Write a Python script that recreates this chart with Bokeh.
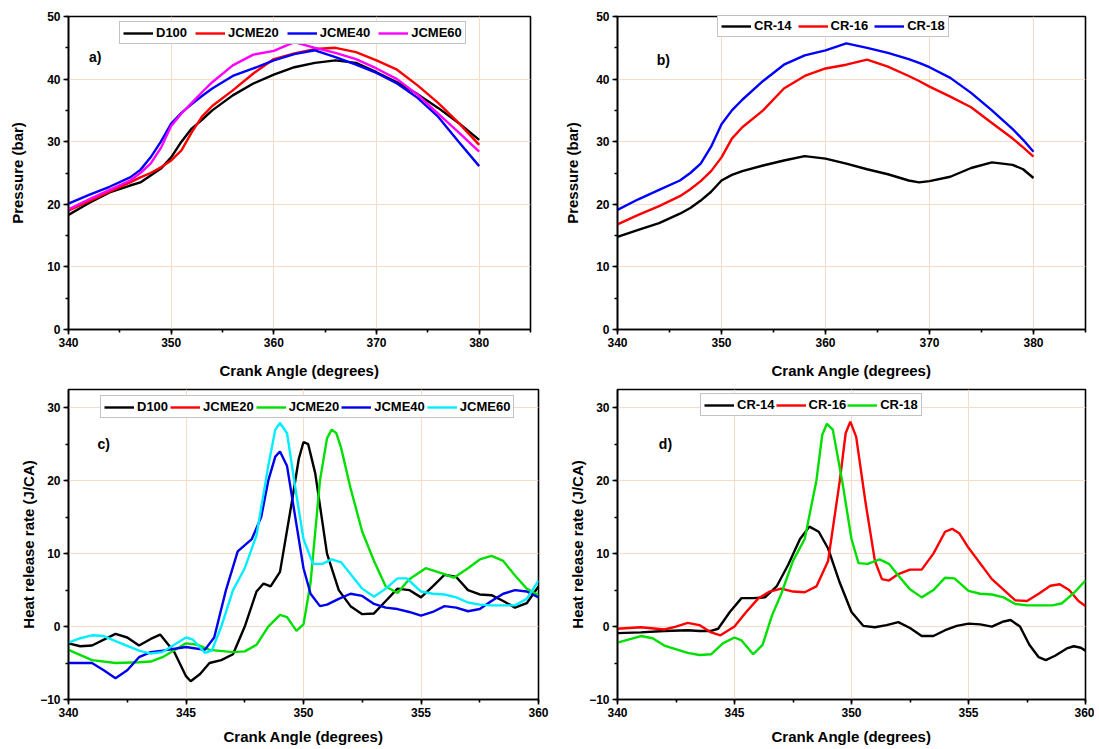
from bokeh.plotting import figure
from bokeh.layouts import column, row
from bokeh.models import (Legend, LegendItem, Label, SingleIntervalTicker, Range1d)
from bokeh.embed import file_html
from bokeh.resources import INLINE

# ---------------- data ----------------
# Panel a) pressure vs crank angle (fuel blends)
ang_a = [340, 342, 344, 346, 347, 348, 349, 350, 351, 352, 353, 354, 356, 358, 360,
         362, 364, 366, 368, 370, 372, 374, 376, 378, 380]
p_d100 = [18.3, 20.2, 21.9, 23.0, 23.5, 24.6, 25.7, 27.5, 30.0, 32.1, 33.5, 35.0, 37.4, 39.3, 40.7,
          41.9, 42.6, 43.0, 42.6, 41.1, 39.5, 37.6, 35.4, 33.0, 30.3]
p_jcme20 = [19.0, 20.5, 22.0, 23.5, 24.3, 25.0, 25.9, 27.0, 28.6, 31.5, 34.0, 35.7, 38.2, 40.9, 43.2,
            44.1, 44.8, 45.0, 44.3, 43.0, 41.5, 39.0, 36.2, 33.0, 29.5]
p_jcme40 = [20.1, 21.5, 22.8, 24.3, 25.5, 27.5, 30.0, 32.9, 34.6, 36.0, 37.3, 38.5, 40.5, 41.7, 43.0,
            44.0, 44.6, 43.5, 42.3, 41.0, 39.3, 37.0, 34.0, 30.0, 26.1]
p_jcme60 = [19.2, 20.8, 22.3, 23.8, 25.0, 26.5, 29.0, 32.5, 34.5, 36.2, 37.9, 39.5, 42.2, 43.9, 44.5,
            45.9, 45.0, 44.2, 43.2, 41.7, 40.0, 37.5, 34.5, 31.5, 28.4]

# Panel b) pressure vs crank angle (compression ratio)
ang_b = [340, 342, 344, 346, 347, 348, 349, 350, 351, 352, 354, 356, 358, 360, 362, 364,
         366, 368, 369, 370, 372, 374, 376, 378, 379, 380]
p_cr14 = [14.8, 15.9, 17.0, 18.5, 19.4, 20.6, 22.0, 23.8, 24.7, 25.3, 26.2, 27.0, 27.7, 27.3, 26.5, 25.6,
          24.8, 23.8, 23.5, 23.7, 24.4, 25.8, 26.7, 26.3, 25.6, 24.2]
p_cr16 = [16.8, 18.3, 19.7, 21.3, 22.4, 23.7, 25.3, 27.5, 30.5, 32.3, 35.0, 38.5, 40.5, 41.7, 42.3, 43.1,
          42.0, 40.5, 39.7, 38.8, 37.2, 35.5, 33.0, 30.5, 29.1, 27.6]
p_cr18 = [19.1, 20.8, 22.3, 23.8, 25.0, 26.5, 29.2, 32.8, 35.0, 36.7, 39.7, 42.3, 43.8, 44.6, 45.7, 45.0,
          44.2, 43.2, 42.6, 41.9, 40.2, 37.8, 35.0, 32.0, 30.3, 28.4]

# Panel c) heat release rate (fuel blends)
c_d100_x = [340, 340.5, 341, 342, 342.5, 343, 343.5, 343.9, 344.5, 345, 345.2, 345.6, 346, 346.5, 347,
            347.5, 348, 348.3, 348.6, 349, 349.5, 349.8, 350, 350.2, 350.5, 351, 351.5, 352, 352.5, 353,
            353.5, 354, 354.5, 355, 355.5, 356, 356.5, 357, 357.5, 358, 358.5, 359, 359.5, 360]
c_d100_y = [-2.3, -2.7, -2.6, -1.0, -1.5, -2.6, -1.7, -1.1, -3.5, -6.8, -7.5, -6.5, -5.0, -4.6, -3.8,
            0.0, 4.8, 5.9, 5.5, 7.5, 17.0, 23.0, 25.3, 25.0, 21.0, 10.0, 5.0, 2.8, 1.7, 1.8,
            3.5, 5.2, 5.0, 4.0, 5.5, 7.1, 6.8, 5.0, 4.4, 4.3, 3.5, 2.6, 3.2, 5.5]
# red JCME20 appears only in the legend of panel c (no visible curve)
c_jcme20_x = [340.0]
c_jcme20_y = [float("nan")]
c_jcme20g_x = [340, 341, 342, 343, 343.5, 344, 345, 345.5, 346, 347, 347.5, 348, 348.5, 349, 349.3,
               349.7, 350, 350.3, 350.7, 351.0, 351.2, 351.4, 351.6, 352, 352.5, 353, 353.5, 354, 354.5,
               355.2, 355.8, 356.4, 357, 357.5, 358, 358.5, 359, 359.5, 360]
c_jcme20g_y = [-3.2, -4.6, -5.0, -4.9, -4.8, -4.2, -2.3, -2.5, -3.2, -3.5, -3.4, -2.5, 0.0, 1.6, 1.3,
               -0.6, 0.3, 6.0, 20.0, 25.8, 27.0, 26.5, 24.5, 19.0, 13.0, 9.0, 5.5, 4.6, 6.5,
               8.0, 7.4, 6.7, 8.0, 9.2, 9.7, 9.0, 7.0, 5.2, 4.3]
c_jcme40_x = [340, 341, 341.5, 342, 342.5, 343, 343.5, 344, 345, 345.8, 346.2, 346.7, 347.2, 347.8,
              348.2, 348.5, 348.8, 349, 349.3, 349.6, 350, 350.3, 350.7, 351, 351.5, 352, 352.5, 353,
              353.5, 354, 354.5, 355, 355.5, 356, 356.5, 357, 357.5, 358, 358.5, 359, 359.5, 360]
c_jcme40_y = [-5.0, -5.0, -6.0, -7.1, -6.0, -4.2, -3.5, -3.3, -2.8, -3.2, -1.5, 5.0, 10.3, 12.0,
              15.0, 20.0, 23.3, 24.0, 22.0, 16.0, 8.0, 4.5, 2.8, 3.0, 3.8, 4.5, 4.2, 3.1,
              2.6, 2.4, 2.0, 1.5, 2.0, 2.8, 2.6, 2.1, 2.4, 3.5, 4.5, 5.0, 4.8, 4.0]
c_jcme60_x = [340, 340.5, 341, 341.5, 342, 343, 343.5, 344, 344.5, 345, 345.3, 345.8, 346.1, 346.5,
              347, 347.5, 348, 348.5, 348.8, 349, 349.3, 349.7, 350, 350.4, 350.8, 351.2, 351.6, 352,
              352.5, 353, 353.5, 354, 354.4, 355, 355.5, 356, 356.5, 357, 357.5, 358, 358.5, 359,
              359.5, 360]
c_jcme60_y = [-2.2, -1.6, -1.2, -1.3, -2.0, -3.3, -3.7, -3.5, -2.5, -1.5, -1.8, -3.6, -3.3, 0.0,
              5.0, 8.0, 12.5, 22.0, 27.0, 27.9, 26.5, 18.0, 12.0, 8.6, 8.6, 9.2, 8.8, 7.2,
              5.2, 4.1, 5.2, 6.6, 6.6, 4.8, 4.5, 4.4, 4.0, 3.3, 3.0, 2.9, 2.9, 2.9,
              3.8, 6.3]

# Panel d) heat release rate (compression ratio)
d_cr14_x = [340, 341, 342, 343, 343.5, 344, 344.3, 344.8, 345.3, 345.8, 346.3, 346.8, 347.3, 347.8,
            348.2, 348.6, 349, 349.5, 350, 350.5, 351, 351.5, 352, 352.5, 353, 353.5, 354, 354.5,
            355, 355.5, 356, 356.5, 356.8, 357.2, 357.6, 358, 358.3, 358.7, 359.2, 359.5, 359.8, 360]
d_cr14_y = [-0.9, -0.8, -0.6, -0.5, -0.6, -0.6, -0.3, 2.0, 3.9, 3.9, 4.0, 5.5, 8.5, 12.0,
            13.7, 13.0, 10.7, 6.0, 2.0, 0.1, -0.1, 0.2, 0.6, -0.2, -1.3, -1.3, -0.5, 0.1,
            0.4, 0.3, 0.0, 0.7, 0.9, 0.0, -2.5, -4.2, -4.6, -4.0, -3.0, -2.7, -2.9, -3.3]
d_cr16_x = [340, 341, 342, 342.5, 343, 343.5, 344, 344.4, 345, 345.5, 346, 346.5, 347, 347.5, 348,
            348.5, 349, 349.5, 349.75, 349.95, 350.2, 350.6, 351, 351.3, 351.6, 352, 352.5, 353, 353.5,
            354, 354.3, 354.6, 355, 356, 357, 357.5, 358, 358.5, 358.9, 359.3, 359.7, 360]
d_cr16_y = [-0.3, -0.1, -0.4, 0.0, 0.5, 0.2, -0.8, -1.2, 0.0, 2.0, 3.8, 4.8, 5.2, 4.8, 4.7,
            5.5, 9.0, 20.0, 26.5, 28.1, 26.0, 17.0, 9.0, 6.5, 6.3, 7.2, 7.8, 7.8, 10.0,
            13.0, 13.4, 12.8, 10.8, 6.5, 3.6, 3.5, 4.5, 5.6, 5.8, 5.0, 3.5, 2.8]
d_cr18_x = [340, 341, 341.5, 342, 343, 343.5, 344, 344.5, 345, 345.3, 345.8, 346.2, 346.6, 347,
            347.5, 348, 348.5, 348.75, 348.95, 349.2, 349.6, 350, 350.3, 350.7, 351.2, 351.6, 352, 352.5,
            353, 353.5, 354, 354.4, 355, 355.5, 356, 356.5, 357, 357.5, 358, 358.6, 359, 359.5, 360]
d_cr18_y = [-2.2, -1.3, -1.6, -2.6, -3.6, -3.9, -3.8, -2.3, -1.5, -1.9, -3.8, -2.5, 1.5, 4.5,
            9.0, 12.0, 20.0, 26.3, 27.8, 27.0, 20.0, 12.0, 8.7, 8.6, 9.2, 8.6, 7.0, 5.1,
            4.0, 5.0, 6.7, 6.6, 4.9, 4.5, 4.4, 4.0, 3.1, 2.9, 2.9, 2.9, 3.2, 4.6, 6.3]

FONT = "Liberation Sans"
GRID = "#f8dcc8"


def make_fig(w, h, xr, yr, xint, yint, ml, mr, mt, mb, ylabel, xstand, ystand):
    p = figure(width=w, height=h, output_backend="svg", toolbar_location=None,
               x_range=Range1d(*xr), y_range=Range1d(*yr),
               min_border_left=ml, min_border_right=mr, min_border_top=mt, min_border_bottom=mb)
    p.background_fill_color = "white"
    p.border_fill_color = "white"
    p.outline_line_color = "black"
    p.outline_line_width = 1.6
    p.outline_line_alpha = 1.0
    p.xaxis.ticker = SingleIntervalTicker(interval=xint, num_minor_ticks=2)
    p.yaxis.ticker = SingleIntervalTicker(interval=yint, num_minor_ticks=2)
    for ax in (p.xaxis[0], p.yaxis[0]):
        ax.axis_line_width = 1.6
        ax.axis_line_color = "black"
        ax.major_tick_line_width = 1.6
        ax.minor_tick_line_width = 1.6
        ax.major_tick_out = 5
        ax.major_tick_in = 0
        ax.minor_tick_out = 3
        ax.minor_tick_in = 0
        ax.major_label_text_font = FONT
        ax.major_label_text_font_style = "bold"
        ax.major_label_text_font_size = "12px"
        ax.major_label_text_color = "black"
        ax.axis_label_text_font = FONT
        ax.axis_label_text_font_style = "bold"
        ax.axis_label_text_font_size = "15px"
        ax.axis_label_text_color = "black"
        ax.major_label_standoff = 3
    p.xaxis.axis_label = "Crank Angle (degrees)"
    p.yaxis.axis_label = ylabel
    p.xaxis.axis_label_standoff = xstand
    p.yaxis.axis_label_standoff = ystand
    p.xgrid.grid_line_color = GRID
    p.ygrid.grid_line_color = GRID
    p.xgrid.grid_line_width = 1
    p.ygrid.grid_line_width = 1
    return p


def add_legend(p, items, loc, spacing):
    leg = Legend(items=items, orientation="horizontal", location=loc,
                 glyph_width=30, glyph_height=12, label_standoff=3, spacing=spacing,
                 padding=3, margin=0, label_height=12,
                 label_text_font=FONT, label_text_font_style="bold",
                 label_text_font_size="13px", label_text_color="black",
                 border_line_color="#888888", border_line_width=1.2,
                 background_fill_color="white", background_fill_alpha=1.0)
    p.add_layout(leg, "center")


def add_tag(p, x, y, t):
    p.add_layout(Label(x=x, y=y, text=t, text_font=FONT, text_font_style="bold",
                       text_font_size="14px", text_baseline="middle", text_align="center",
                       text_color="black"))


LW = 2.4

# ---- a ----
pa = make_fig(549, 382, (340, 385), (0, 50), 10, 10, 68, 19, 16, 53, "Pressure (bar)", 12, 18)
ra1 = pa.line(ang_a, p_d100, line_color="black", line_width=LW)
ra2 = pa.line(ang_a, p_jcme20, line_color="#ff0000", line_width=LW)
ra3 = pa.line(ang_a, p_jcme40, line_color="#0000ff", line_width=LW)
ra4 = pa.line(ang_a, p_jcme60, line_color="#ff00ff", line_width=LW)
add_legend(pa, [LegendItem(label="D100", renderers=[ra1]),
                LegendItem(label="JCME20", renderers=[ra2]),
                LegendItem(label="JCME40", renderers=[ra3]),
                LegendItem(label="JCME60", renderers=[ra4])], (51, 285), 8)
add_tag(pa, 342.6, 43.6, "a)")

# ---- b ----
pb = make_fig(545, 382, (340, 385), (0, 50), 10, 10, 68, 9, 16, 53, "Pressure (bar)", 12, 12)
rb1 = pb.line(ang_b, p_cr14, line_color="black", line_width=LW)
rb2 = pb.line(ang_b, p_cr16, line_color="#ff0000", line_width=LW)
rb3 = pb.line(ang_b, p_cr18, line_color="#0000ff", line_width=LW)
add_legend(pb, [LegendItem(label="CR-14", renderers=[rb1]),
                LegendItem(label="CR-16", renderers=[rb2]),
                LegendItem(label="CR-18", renderers=[rb3])], (100, 292), 6)
add_tag(pb, 344.4, 43.1, "b)")

# ---- c ----
pc = make_fig(549, 366, (340, 360), (-10, 32.5), 5, 10, 68, 11, 7, 49,
              "Heat release rate (J/CA)", 8, 0)
rc1 = pc.line(c_d100_x, c_d100_y, line_color="black", line_width=LW)
rc2 = pc.line(c_jcme20_x, c_jcme20_y, line_color="#ff0000", line_width=LW)
rc3 = pc.line(c_jcme20g_x, c_jcme20g_y, line_color="#00e000", line_width=LW)
rc4 = pc.line(c_jcme40_x, c_jcme40_y, line_color="#0000ee", line_width=LW)
rc5 = pc.line(c_jcme60_x, c_jcme60_y, line_color="#00eeff", line_width=LW)
add_legend(pc, [LegendItem(label="D100", renderers=[rc1]),
                LegendItem(label="JCME20", renderers=[rc2]),
                LegendItem(label="JCME20", renderers=[rc3]),
                LegendItem(label="JCME40", renderers=[rc4]),
                LegendItem(label="JCME60", renderers=[rc5])], (32, 281), 2)
add_tag(pc, 341.5, 25.0, "c)")

# ---- d ----
pd_ = make_fig(545, 366, (340, 360), (-10, 32.5), 5, 10, 68, 9, 7, 49,
               "Heat release rate (J/CA)", 8, 0)
rd1 = pd_.line(d_cr14_x, d_cr14_y, line_color="black", line_width=LW)
rd2 = pd_.line(d_cr16_x, d_cr16_y, line_color="#ff0000", line_width=LW)
rd3 = pd_.line(d_cr18_x, d_cr18_y, line_color="#00e000", line_width=LW)
add_legend(pd_, [LegendItem(label="CR-14", renderers=[rd1]),
                 LegendItem(label="CR-16", renderers=[rd2]),
                 LegendItem(label="CR-18", renderers=[rd3])], (83, 283), 1)
add_tag(pd_, 342.05, 25.0, "d)")

layout = column(row(pa, pb), row(pc, pd_))
open("out.html", "w").write(file_html(layout, INLINE))
